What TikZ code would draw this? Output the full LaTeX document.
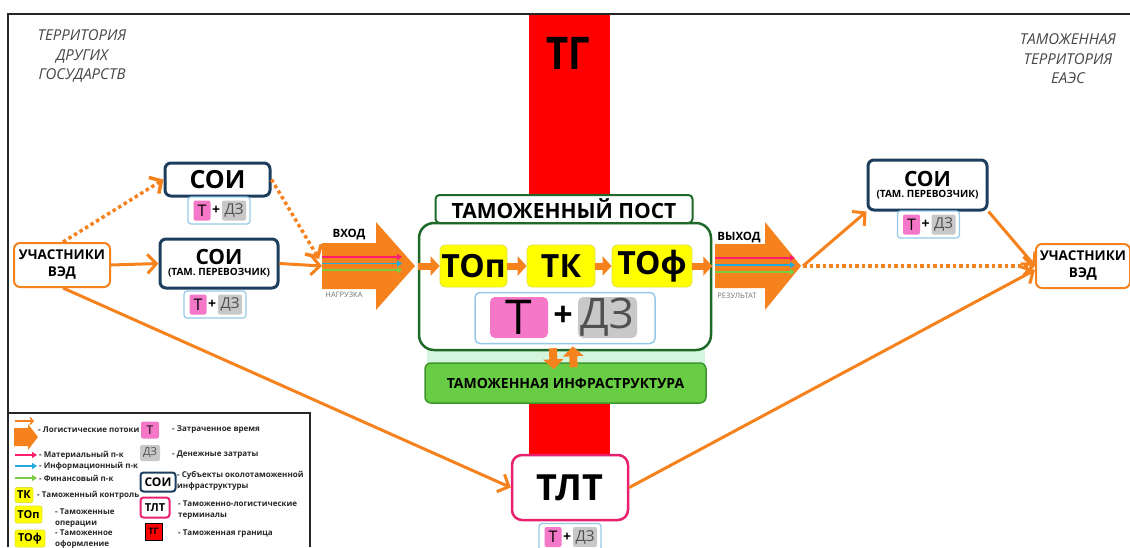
\documentclass[tikz,border=0pt]{standalone}
\usepackage{fontspec}
\setmainfont{Open Sans}
\usetikzlibrary{arrows.meta,calc}
\definecolor{org}{RGB}{246,130,30}
\definecolor{soiblue}{RGB}{28,62,92}
\definecolor{ltblue}{RGB}{150,200,232}
\definecolor{tpink}{RGB}{245,120,200}
\definecolor{dzgray}{RGB}{200,200,200}
\definecolor{dztext}{RGB}{80,80,80}
\definecolor{yel}{RGB}{255,255,0}
\definecolor{yelb}{RGB}{225,225,60}
\definecolor{pgreen}{RGB}{30,105,40}
\definecolor{igreen}{RGB}{104,204,68}
\definecolor{igreenb}{RGB}{60,150,45}
\definecolor{mint}{RGB}{212,246,222}
\definecolor{tgred}{RGB}{255,0,0}
\definecolor{tltpink}{RGB}{232,32,110}
\definecolor{matc}{RGB}{255,30,110}
\definecolor{infc}{RGB}{34,170,221}
\definecolor{finc}{RGB}{122,204,68}
\definecolor{txtgray}{RGB}{70,70,70}
\newcommand\fsz[1]{\fontsize{#1}{#1}\selectfont}
\begin{document}
\begin{tikzpicture}[x=1pt,y=-1pt,
  uvbox/.style={draw=org,line width=2pt,rounded corners=6pt,fill=white,minimum width=96pt,minimum height=44pt,align=center,inner sep=0pt,font=\fontsize{13.5}{17}\selectfont\bfseries},
  soibox/.style={draw=soiblue,line width=3pt,rounded corners=6pt,fill=white,inner sep=0pt,align=center,font=\bfseries},
  tdzframe/.style={draw=ltblue,line width=1.2pt,rounded corners=3pt,fill=white,minimum width=62pt,minimum height=27pt,inner sep=0pt},
  tbox/.style={fill=tpink,rounded corners=2pt,inner sep=0pt,text=black},
  dzbox/.style={fill=dzgray,rounded corners=2pt,inner sep=0pt,text=dztext},
  ybox/.style={fill=yel,draw=yelb,line width=0.8pt,rounded corners=5pt,inner sep=0pt,font=\fsz{32}\bfseries},
  conn/.style={draw=org,line width=3pt,-{Straight Barb[length=9pt,width=19pt]}},
  dotconn/.style={conn,line width=3.5pt,dash pattern=on 3.5pt off 3pt},
  blk/.style={draw=org,line width=7pt,-{Triangle[length=9pt,width=19pt]}},
  flowl/.style={line width=1.6pt,-{Triangle[length=5pt,width=6pt]}},
  lgtext/.style={anchor=west,inner sep=0pt,align=left,font=\fontsize{8}{10.5}\selectfont\bfseries,text=black!85},
]
\useasboundingbox (0,0) rectangle (1130,547);
% customs border band
\fill[tgred] (529,14) rectangle (610,470);
\node[font=\fsz{45}\bfseries,inner sep=0pt] (tg) at (568.5,53) {\scalebox{0.85}[1]{ТГ}};
% frame
\draw[line width=2.5pt,black!85] (8,547) -- (8,14) -- (1130,14);
% territory labels
\node[align=center,font=\fontsize{15}{19.5}\selectfont\itshape,text=txtgray,inner sep=0pt] (tl) at (82,56) {ТЕРРИТОРИЯ\\ДРУГИХ\\ГОСУДАРСТВ};
\node[align=center,font=\fontsize{15}{19.5}\selectfont\itshape,text=txtgray,inner sep=0pt] (tr) at (1068,59) {ТАМОЖЕННАЯ\\ТЕРРИТОРИЯ\\ЕАЭС};
% participants
\node[uvbox] (uvL) at (62,265) {УЧАСТНИКИ\\ВЭД};
\node[uvbox,minimum width=94pt] (uvR) at (1083,266) {УЧАСТНИКИ\\ВЭД};
% SOI nodes
\node[soibox,minimum width=105pt,minimum height=33pt,font=\fsz{25}\bfseries] (soi1) at (217.5,179.5) {СОИ};
\node[soibox,minimum width=118pt,minimum height=49pt] (soi2) at (219,263.5) {\fsz{21}СОИ\\[-1pt]\fsz{10}(ТАМ. ПЕРЕВОЗЧИК)};
\node[soibox,minimum width=119pt,minimum height=50pt] (soi3) at (927.5,185) {\fsz{21}СОИ\\[-1pt]\fsz{10}(ТАМ. ПЕРЕВОЗЧИК)};
% small T + DZ groups
\foreach \nm/\cx/\cy in {tdzA/219/210.5, tdzB/215/304.5, tdzC/928.5/224.5}{
  \node[tdzframe] (\nm) at (\cx,\cy) {};
  \node[tbox,minimum width=17pt,minimum height=20pt,font=\fsz{16}] (\nm t) at ($(\nm)+(-17,0)$) {Т};
  \node[inner sep=0pt,font=\fsz{14}\bfseries] (\nm p) at ($(\nm)+(-3,0)$) {+};
  \node[dzbox,minimum width=24pt,minimum height=20pt,font=\fsz{15}] (\nm d) at ($(\nm)+(15,0)$) {ДЗ};
}
% input big arrow
\fill[org] (322,243) -- (376,243) -- (376,222) -- (415,266) -- (376,310) -- (376,289) -- (322,289) -- cycle;
\coordinate (inL) at (322,266);
\coordinate (inTop) at (319,259);
\coordinate (inTip) at (415,266);
\draw[flowl,matc] (322,257) -- (402,257);
\draw[flowl,infc] (322,263.5) -- (402,263.5);
\draw[flowl,finc] (322,270) -- (402,270);
\node[font=\fsz{11.5}\bfseries,inner sep=0pt] (vhod) at (349,235) {ВХОД};
\node[font=\fsz{7.5},text=black!55,inner sep=0pt] (nagr) at (344,295) {НАГРУЗКА};
% output big arrow
\fill[org] (715,244) -- (765,244) -- (765,222) -- (801,266) -- (765,310) -- (765,288) -- (715,288) -- cycle;
\coordinate (outTip) at (803,266);
\draw[flowl,matc] (715,258) -- (795,258);
\draw[flowl,infc] (715,265) -- (795,265);
\draw[flowl,finc] (715,272) -- (795,272);
\node[font=\fsz{11.5}\bfseries,inner sep=0pt] (vyhod) at (739,238) {ВЫХОД};
\node[font=\fsz{7.5},text=black!55,inner sep=0pt] (rez) at (737,296) {РЕЗУЛЬТАТ};
% customs post
\fill[mint] (427,345) rectangle (705,367);
\node[draw=pgreen,line width=2.5pt,rounded corners=15pt,fill=white,minimum width=292pt,minimum height=127pt] (post) at (565,286.5) {};
\node[draw=pgreen,line width=2pt,rounded corners=4pt,fill=white,minimum width=257pt,minimum height=28pt,inner sep=0pt,font=\fsz{21}\bfseries] (ptitle) at (564,209) {ТАМОЖЕННЫЙ ПОСТ};
\node[draw=igreenb,line width=1.5pt,rounded corners=6pt,fill=igreen,minimum width=281pt,minimum height=40pt,inner sep=0pt,font=\fsz{14}\bfseries] (infra) at (565.5,383) {ТАМОЖЕННАЯ ИНФРАСТРУКТУРА};
\node[ybox,minimum width=67pt,minimum height=42pt] (top) at (473.5,266) {ТОп};
\node[ybox,minimum width=68pt,minimum height=42pt] (tk) at (561,266) {ТК};
\node[ybox,minimum width=80pt,minimum height=42pt] (tof) at (652,266) {ТОф};
\draw[blk] (post.west |- top.west) -- (top.west);
\draw[blk] (top.east) -- (tk.west);
\draw[blk] (tk.east) -- (tof.west);
\draw[blk] (tof.east) -- (post.east |- tof.east);
% big T + DZ
\node[draw=ltblue,line width=1.5pt,rounded corners=5pt,fill=white,minimum width=180pt,minimum height=51pt] (tdzM) at (565,318) {};
\node[tbox,rounded corners=5pt,minimum width=58pt,minimum height=41pt,font=\fsz{48}] (tdzMt) at (519,317.5) {Т};
\node[inner sep=0pt,font=\fsz{34}\bfseries] (tdzMp) at (563,316) {+};
\node[dzbox,rounded corners=5pt,minimum width=59pt,minimum height=41pt,font=\fsz{42}] (tdzMd) at (607.5,317.5) {ДЗ};
% up/down arrows post <-> infrastructure
\draw[draw=org,line width=8pt,-{Triangle[length=10pt,width=20pt]},shorten <=-3pt,shorten >=-7pt] ([xshift=-12pt]post.south) -- ([xshift=-12pt]infra.north);
\draw[draw=org,line width=8pt,-{Triangle[length=10pt,width=20pt]},shorten <=-5pt,shorten >=-5pt] ([xshift=8pt]infra.north) -- ([xshift=8pt]post.south);
% TLT
\node[draw=tltpink,line width=2.5pt,rounded corners=10pt,fill=white,minimum width=116pt,minimum height=65pt,inner sep=0pt,font=\fsz{36}\bfseries] (tlt) at (570,487.5) {ТЛТ};
\node[tdzframe] (tdzD) at (570,537) {};
\node[tbox,minimum width=17pt,minimum height=20pt,font=\fsz{16}] (tdzDt) at (553,537) {Т};
\node[inner sep=0pt,font=\fsz{14}\bfseries] (tdzDp) at (567,537) {+};
\node[dzbox,minimum width=24pt,minimum height=20pt,font=\fsz{15}] (tdzDd) at (585,537) {ДЗ};
% connectors left side
\draw[dotconn] ([xshift=1pt]uvL.north) -- (soi1.west);
\draw[dotconn] (soi1.east) -- (inTop);
\draw[conn] (uvL.east) -- (soi2.west);
\draw[conn] (soi2.east) -- (inL);
\draw[conn] ([xshift=1pt]uvL.south) -- (tlt.west);
% connectors right side
\draw[conn] (outTip) -- (soi3.south west);
\draw[conn] (soi3.south east) -- (uvR.west);
\draw[dotconn] (outTip) -- (uvR.west);
\draw[conn] (tlt.east) -- ([yshift=-4pt]uvR.west);
% legend
\draw[line width=2.5pt,black!85] (8,413) -- (310,413) -- (310,547);
\draw[draw=org,line width=1.5pt,-{Straight Barb[length=3pt,width=7pt]}] (15,421) -- (34,421);
\fill[org] (14,428) -- (28,428) -- (28,424) -- (38,437) -- (28,450) -- (28,446) -- (14,446) -- cycle;
\node[lgtext] (l1) at (38,430) {- Логистические потоки};
\draw[flowl,matc,line width=2pt] (15,455) -- (37,455);
\node[lgtext] (l2) at (39,455) {- Материальный п-к};
\draw[flowl,infc,line width=2pt] (15,466) -- (37,466);
\node[lgtext] (l3) at (39,466) {- Информационный п-к};
\draw[flowl,finc,line width=2pt] (15,478) -- (37,478);
\node[lgtext] (l4) at (39,478) {- Финансовый п-к};
\node[ybox,minimum width=18pt,minimum height=15pt,rounded corners=2pt,font=\fsz{11}\bfseries] (lgtk) at (24,495) {ТК};
\node[lgtext] (l5) at (37,495) {- Таможенный контроль};
\node[ybox,minimum width=27pt,minimum height=17pt,rounded corners=2pt,font=\fsz{11}\bfseries] (lgtop) at (28.5,514.5) {ТОп};
\node[lgtext] (l6) at (55,518) {- Таможенные\\операции};
\node[ybox,minimum width=30pt,minimum height=17pt,rounded corners=2pt,font=\fsz{11}\bfseries] (lgtof) at (30,538.5) {ТОф};
\node[lgtext] (l7) at (55,539) {- Таможенное\\оформление};
\node[tbox,minimum width=18pt,minimum height=17pt,font=\fsz{12}] (lgt) at (150,430) {Т};
\node[lgtext] (l8) at (172,430) {- Затраченное время};
\node[dzbox,minimum width=20pt,minimum height=16pt,font=\fsz{11}] (lgdz) at (150,453) {ДЗ};
\node[lgtext] (l9) at (172,455) {- Денежные затраты};
\node[soibox,line width=2pt,rounded corners=3pt,minimum width=35pt,minimum height=19pt,font=\fsz{12}\bfseries] (lgsoi) at (158,482) {СОИ};
\node[lgtext] (l10) at (177,481) {- Субъекты околотаможенной\\инфраструктуры};
\node[draw=tltpink,line width=2pt,rounded corners=3pt,fill=white,minimum width=29pt,minimum height=20pt,inner sep=0pt,font=\fsz{11}\bfseries] (lgtlt) at (155,507.5) {ТЛТ};
\node[lgtext] (l11) at (178,510) {- Таможенно-логистические\\терминалы};
\node[draw=black,fill=tgred,line width=1pt,minimum width=17pt,minimum height=17pt,inner sep=0pt,font=\fsz{9}\bfseries] (lgtg) at (153.5,531.5) {ТГ};
\node[lgtext] (l12) at (178,534) {- Таможенная граница};
\end{tikzpicture}
\end{document}
